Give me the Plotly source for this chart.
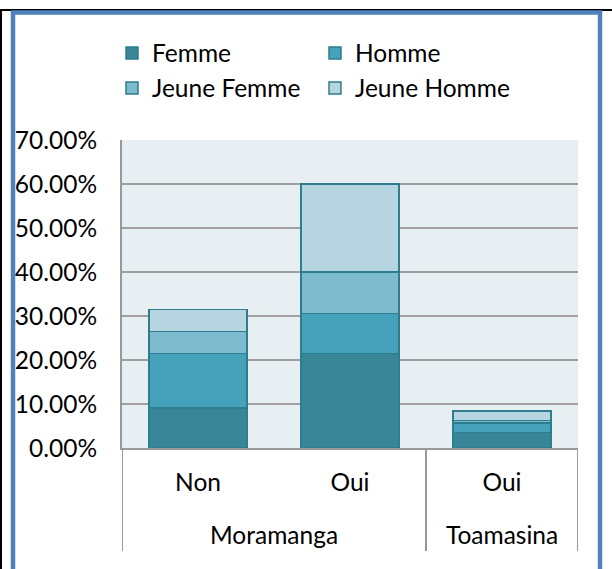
import plotly.graph_objects as go

# ---- data ----
region = ["Moramanga", "Moramanga", "Toamasina"]
answer = ["Non", "Oui", "Oui"]
femme = [0.091, 0.215, 0.035]
homme = [0.124, 0.091, 0.022]
jeune_femme = [0.050, 0.094, 0.006]
jeune_homme = [0.050, 0.200, 0.021]
series_names = ["Femme", "Homme", "Jeune Femme", "Jeune Homme"]
series_colors = ["#3A8699", "#46A2BA", "#7FBBCF", "#B7D5E1"]
y_ticks = [0, 0.1, 0.2, 0.3, 0.4, 0.5, 0.6, 0.7]

W, H = 612, 569
L, R, T, B = 122, 34, 140, 121
FONT = "Lato"
FS = 24.5

positions = list(range(len(answer)))

fig = go.Figure()
values = [femme, homme, jeune_femme, jeune_homme]
legends = ["legend", "legend", "legend2", "legend2"]
for name, vals, col, lg in zip(series_names, values, series_colors, legends):
    fig.add_trace(go.Bar(
        x=positions, y=vals, name=name, width=0.645,
        marker=dict(color=col, line=dict(color="#2E7D8F", width=1.5)),
        legend=lg,
    ))

pw = W - L - R
ph = H - T - B
def px(x):
    return (x - L) / pw
def py(y):
    return (H - B - y) / ph

shapes = [
    dict(type="line", xref="paper", yref="paper", x0=px(0), x1=px(W), y0=py(10), y1=py(10),
         line=dict(color="black", width=2)),
    dict(type="line", xref="paper", yref="paper", x0=px(1), x1=px(1), y0=py(10), y1=py(H + 5),
         line=dict(color="black", width=2)),
    dict(type="rect", xref="paper", yref="paper", x0=px(13), x1=px(600), y0=py(12.5), y1=py(H + 10),
         line=dict(color="#4F81BD", width=4.5), fillcolor="rgba(0,0,0,0)"),
]

# group labels and dividers for the two-level category axis
annotations = []
groups = []
for i, r in enumerate(region):
    if groups and groups[-1][0] == r:
        groups[-1][2] = i
    else:
        groups.append([r, i, i])
for r, i0, i1 in groups:
    annotations.append(dict(x=(positions[i0] + positions[i1]) / 2, xref="x", y=py(534), yref="paper",
                            text=r, showarrow=False, xanchor="center", yanchor="middle",
                            font=dict(size=FS, family=FONT, color="black")))
    for xb in (positions[i0] - 0.5, positions[i1] + 0.5):
        shapes.append(dict(type="line", xref="x", yref="paper", x0=xb, x1=xb, y0=0, y1=py(551),
                           line=dict(color="#999999", width=2)))

leg_common = dict(orientation="h", xref="container", yref="container",
                  xanchor="left", yanchor="middle",
                  entrywidth=158, entrywidthmode="pixels",
                  bgcolor="rgba(0,0,0,0)", font=dict(size=FS, family=FONT),
                  traceorder="normal")
fig.update_layout(
    width=W, height=H,
    margin=dict(l=L, r=R, t=T, b=B, autoexpand=False),
    paper_bgcolor="white", plot_bgcolor="#E8EFF3",
    barmode="stack",
    font=dict(family=FONT, size=FS, color="black"),
    shapes=shapes, annotations=annotations,
    legend=dict(x=112 / W, y=1 - 53 / H, **leg_common),
    legend2=dict(x=112 / W, y=1 - 88 / H, **leg_common),
    showlegend=True,
)
fig.update_yaxes(range=[0, 0.7], tickvals=y_ticks, tickformat=".2%",
                 showgrid=True, gridcolor="#A0A0A0", gridwidth=2,
                 showline=True, linecolor="#999999", linewidth=2,
                 zeroline=False, ticks="", ticklabelstandoff=18,
                 tickfont=dict(size=FS, family=FONT))
fig.update_xaxes(range=[-0.5, len(answer) - 0.5], tickvals=positions, ticktext=answer,
                 showgrid=False, zeroline=False,
                 showline=True, linecolor="#999999", linewidth=2,
                 ticks="", ticklabelstandoff=12, tickfont=dict(size=FS, family=FONT))

fig.write_html("out.html", config={"displayModeBar": False})
with open("out.html", encoding="utf-8") as f:
    html = f.read()
html = html.replace("<body>", '<body style="margin:0;">', 1)
with open("out.html", "w", encoding="utf-8") as f:
    f.write(html)
